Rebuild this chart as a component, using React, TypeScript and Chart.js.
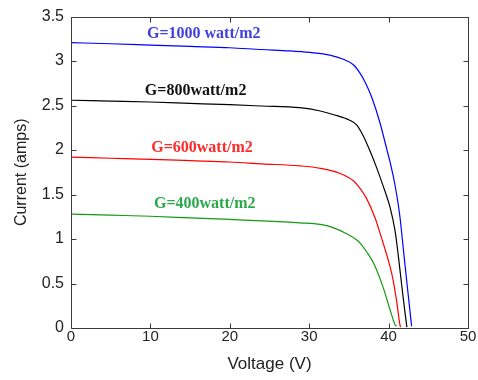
import React, { useEffect, useRef } from "react";
import { Chart, registerables } from "chart.js";

Chart.register(...registerables);

// Series data (voltage V, current A)
const v1000 = [0, 5, 10, 15, 20, 24, 27.6, 30.1, 32.6, 34.3, 35.6, 36.4, 37.2, 37.9, 38.9, 39.8, 40.2, 40.8, 41.4, 41.9, 42.4, 42.9];
const i1000 = [3.207, 3.195, 3.18, 3.165, 3.15, 3.13, 3.115, 3.097, 3.067, 3.02, 2.956, 2.864, 2.735, 2.587, 2.31, 2.0, 1.86, 1.61, 1.27, 0.85, 0.43, 0.02];

const v800 = [0, 5, 10, 15, 20, 24, 28.8, 31.4, 33.0, 35.1, 36.0, 36.8, 37.7, 38.5, 39.3, 40.2, 40.8, 41.2, 41.6, 42.0, 42.3];
const i800 = [2.56, 2.55, 2.54, 2.525, 2.51, 2.495, 2.476, 2.439, 2.4, 2.335, 2.28, 2.16, 1.98, 1.8, 1.6, 1.35, 1.1, 0.83, 0.52, 0.22, 0.01];

const v600 = [0, 5, 10, 15, 20, 24, 28.8, 31.4, 33.9, 35.6, 36.4, 37.2, 38.3, 39.1, 40.0, 40.4, 41.0, 41.4, 41.5];
const i600 = [1.92, 1.908, 1.896, 1.881, 1.866, 1.845, 1.822, 1.795, 1.737, 1.652, 1.57, 1.46, 1.237, 1.015, 0.75, 0.61, 0.31, 0.05, 0.01];

const v400 = [0, 5, 10, 15, 20, 24, 28.8, 31.4, 33.0, 34.7, 36.0, 36.6, 37.2, 38.1, 39.3, 40.2, 40.8, 41.0];
const i400 = [1.28, 1.268, 1.256, 1.238, 1.22, 1.205, 1.182, 1.164, 1.128, 1.06, 0.99, 0.935, 0.86, 0.73, 0.46, 0.2, 0.04, 0.02];

const seriesNames = ["G=1000 watt/m2", "G=800watt/m2", "G=600watt/m2", "G=400watt/m2"];
const lineColors = ["#0000ff", "#000000", "#ff0000", "#139a13"];

// In-plot labels (anchor = left edge, vertical middle, in data units)
const labelX = [9.57, 9.3, 10.1, 10.45];
const labelY = [3.31, 2.66, 2.02, 1.39];
const labelColors = ["#4040dd", "#111111", "#ff2a2a", "#2aa84a"];

const xTicks = [0, 10, 20, 30, 40, 50];
const yTicks = [0, 0.5, 1, 1.5, 2, 2.5, 3, 3.5];

const xTitle = "Voltage (V)";
const yTitle = "Current (amps)";

function pts(v: number[], i: number[]) {
  return v.map((x, k) => ({ x, y: i[k] }));
}

const framePlugin = {
  id: "framePlugin",
  afterDraw(chart: any) {
    const { ctx, chartArea } = chart;
    const xs = chart.scales.x;
    const ys = chart.scales.y;
    const L = Math.round(chartArea.left) + 0.5;
    const R = Math.round(chartArea.right) + 0.5;
    const T = Math.round(chartArea.top) + 0.5;
    const B = Math.round(chartArea.bottom) + 0.5;
    const tl = 5;
    ctx.save();
    ctx.strokeStyle = "#3a3a3a";
    ctx.lineWidth = 1;
    ctx.beginPath();
    ctx.rect(L, T, R - L, B - T);
    for (const v of xTicks) {
      const px = Math.round(xs.getPixelForValue(v)) + 0.5;
      ctx.moveTo(px, B);
      ctx.lineTo(px, B - tl);
      ctx.moveTo(px, T);
      ctx.lineTo(px, T + tl);
    }
    for (const v of yTicks) {
      const py = Math.round(ys.getPixelForValue(v)) + 0.5;
      ctx.moveTo(L, py);
      ctx.lineTo(L + tl, py);
      ctx.moveTo(R, py);
      ctx.lineTo(R - tl, py);
    }
    ctx.stroke();

    ctx.font = "bold 16px 'Liberation Serif', 'Times New Roman', serif";
    ctx.textAlign = "left";
    ctx.textBaseline = "middle";
    seriesNames.forEach((name, k) => {
      ctx.fillStyle = labelColors[k];
      ctx.fillText(name, xs.getPixelForValue(labelX[k]), ys.getPixelForValue(labelY[k]));
    });
    ctx.restore();
  },
};

export default function App() {
  const ref = useRef<HTMLCanvasElement>(null);
  useEffect(() => {
    if (!ref.current) return;
    const data = [pts(v1000, i1000), pts(v800, i800), pts(v600, i600), pts(v400, i400)];
    const chart = new Chart(ref.current, {
      type: "line",
      data: {
        datasets: data.map((d, k) => ({
          label: seriesNames[k],
          data: d,
          borderColor: lineColors[k],
          backgroundColor: lineColors[k],
          borderWidth: 1.2,
          pointRadius: 0,
          fill: false,
          cubicInterpolationMode: "monotone" as const,
        })),
      },
      options: {
        animation: false,
        responsive: false,
        maintainAspectRatio: false,
        layout: { padding: { top: 13, right: 10, left: 0, bottom: 0 } },
        plugins: { legend: { display: false }, tooltip: { enabled: false } },
        scales: {
          x: {
            type: "linear",
            min: 0,
            max: 50,
            grid: { display: false, drawTicks: false },
            border: { display: false },
            afterBuildTicks: (s: any) => {
              s.ticks = xTicks.map((value) => ({ value }));
            },
            afterFit: (s: any) => {
              s.height = 52;
            },
            ticks: {
              padding: 0,
              color: "#222",
              font: { family: "'Liberation Sans', Arial, sans-serif", size: 15 },
              maxRotation: 0,
              callback: (v: any) => String(v),
            },
            title: {
              display: true,
              text: xTitle,
              color: "#222",
              font: { family: "'Liberation Sans', Arial, sans-serif", size: 17 },
              padding: { top: 0, bottom: 5 },
            },
          },
          y: {
            type: "linear",
            min: 0,
            max: 3.5,
            grid: { display: false, drawTicks: false },
            border: { display: false },
            afterBuildTicks: (s: any) => {
              s.ticks = yTicks.map((value) => ({ value }));
            },
            afterFit: (s: any) => {
              s.width = 71;
            },
            ticks: {
              padding: 7,
              color: "#222",
              font: { family: "'Liberation Sans', Arial, sans-serif", size: 16 },
              callback: (v: any) => String(v),
            },
            title: {
              display: true,
              text: yTitle,
              color: "#222",
              font: { family: "'Liberation Sans', Arial, sans-serif", size: 16 },
              padding: { top: 12, bottom: 0 },
            },
          },
        },
      },
      plugins: [framePlugin],
    });
    return () => chart.destroy();
  }, []);
  return (
    <div style={{ position: "fixed", left: 0, top: 0, width: 478, height: 380, background: "#fff" }}>
      <canvas ref={ref} width={478} height={380} style={{ display: "block" }} />
    </div>
  );
}
